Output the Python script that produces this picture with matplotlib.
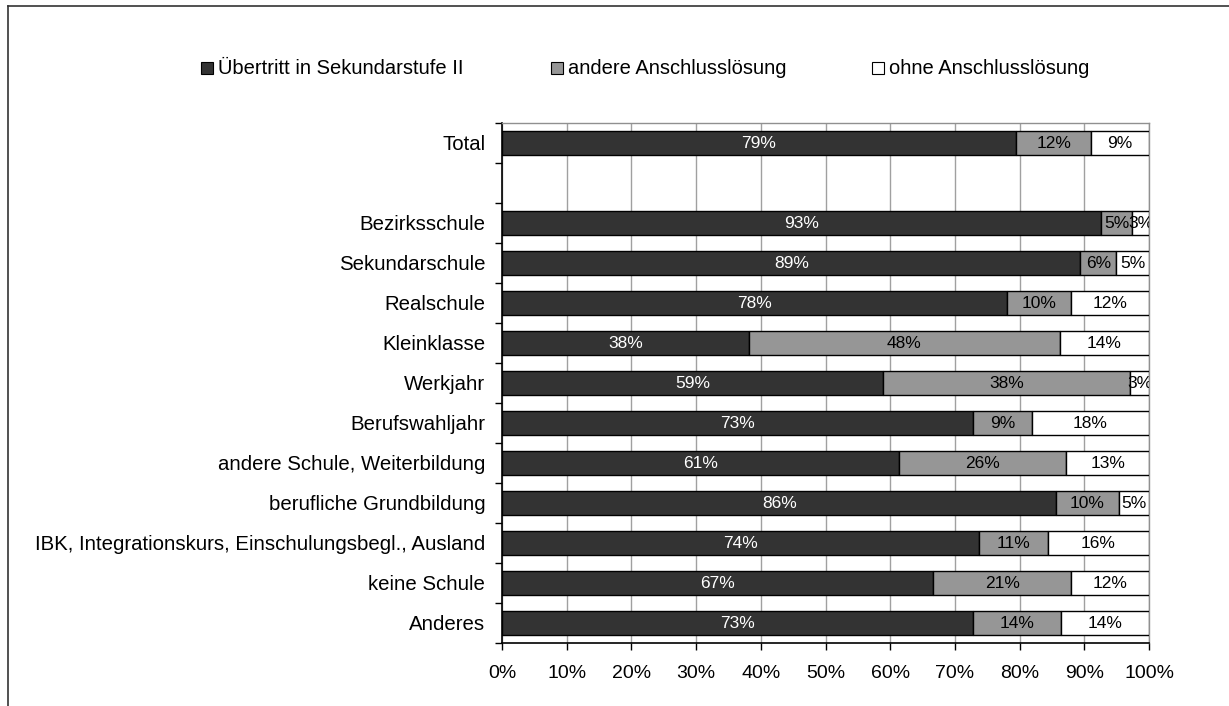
import matplotlib
matplotlib.use("Agg")
import matplotlib.pyplot as plt
from matplotlib.lines import Line2D
from matplotlib.patches import Rectangle

plt.rcParams['font.family'] = ['Liberation Sans', 'DejaVu Sans']

categories = ["Total", "", "Bezirksschule", "Sekundarschule", "Realschule", "Kleinklasse",
              "Werkjahr", "Berufswahljahr", "andere Schule, Weiterbildung",
              "berufliche Grundbildung",
              "IBK, Integrationskurs, Einschulungsbegl., Ausland",
              "keine Schule", "Anderes"]
series_names = ["Übertritt in Sekundarstufe II", "andere Anschlusslösung", "ohne Anschlusslösung"]
# None = empty spacer row
uebertritt = [79.4, None, 92.6, 89.4, 78.0, 38.1, 58.9, 72.8, 61.4, 85.7, 73.8, 66.6, 72.8]
andere     = [11.7, None, 4.8, 5.5, 10.0, 48.1, 38.2, 9.1, 25.8, 9.6, 10.6, 21.4, 13.6]
ohne       = [8.9, None, 2.6, 5.1, 12.0, 13.8, 2.9, 18.1, 12.8, 4.7, 15.6, 12.0, 13.6]
xticks = list(range(0, 101, 10))

colors = ["#333333", "#969696", "#ffffff"]
text_colors = ["white", "black", "black"]

fig = plt.figure(figsize=(12.29, 7.06), dpi=100)
ax = fig.add_axes([502/1229, 1-643/706, (1149-502)/1229, (643-123)/706])

ypos = list(range(len(categories)))
for i, y in enumerate(ypos):
    if uebertritt[i] is None:
        continue
    left = 0
    for s, vals in enumerate([uebertritt, andere, ohne]):
        v = vals[i]
        ax.barh(y, v, left=left, height=0.6, color=colors[s], edgecolor='black',
                linewidth=1, zorder=3)
        ax.text(left + v/2, y, f"{round(v):d}%", ha='center', va='center',
                color=text_colors[s], fontsize=12.5, zorder=4, clip_on=True)
        left += v

ax.set_xlim(0, 100)
ax.set_ylim(len(categories)-0.5, -0.5)
ax.set_xticks(xticks)
ax.set_xticklabels([f"{t}%" for t in xticks], fontsize=14)
ax.set_yticks(ypos)
ax.set_yticklabels(categories, fontsize=14.7)
ax.tick_params(axis='y', which='major', length=0, pad=12)
ax.set_yticks([y + 0.5 for y in range(-1, len(categories))], minor=True)
ax.tick_params(axis='y', which='minor', length=5, width=1, color='black', direction='out')
ax.tick_params(axis='x', which='major', length=5, width=1, color='black', direction='out', pad=11)
ax.xaxis.grid(True, color='#a0a0a0', linewidth=1, zorder=0)
ax.set_axisbelow(True)
for side in ['top', 'right']:
    ax.spines[side].set_color('#909090')
    ax.spines[side].set_linewidth(1)
for side in ['left', 'bottom']:
    ax.spines[side].set_color('black')
    ax.spines[side].set_linewidth(1.2)

# legend (placed as in the original, entries spread across the top)
W, H = 1229, 706
leg_x = [201, 551, 872]
leg_y = 68
sq = 12
for c, name, x in zip(colors, series_names, leg_x):
    fig.add_artist(Rectangle((x/W, 1-(leg_y+sq/2)/H), sq/W, sq/H, transform=fig.transFigure,
                             facecolor=c, edgecolor='black', linewidth=0.8))
    fig.text((x+sq+5)/W, 1-leg_y/H, name, ha='left', va='center', fontsize=14.5)

# figure frame (left and top edges visible)
fig.add_artist(Line2D([8/W, 8/W], [0, 1-6/H], transform=fig.transFigure,
                      color='#333333', linewidth=1.2))
fig.add_artist(Line2D([8/W, 1], [1-6/H, 1-6/H], transform=fig.transFigure,
                      color='#333333', linewidth=1.2))

fig.savefig("out.png", dpi=100)
